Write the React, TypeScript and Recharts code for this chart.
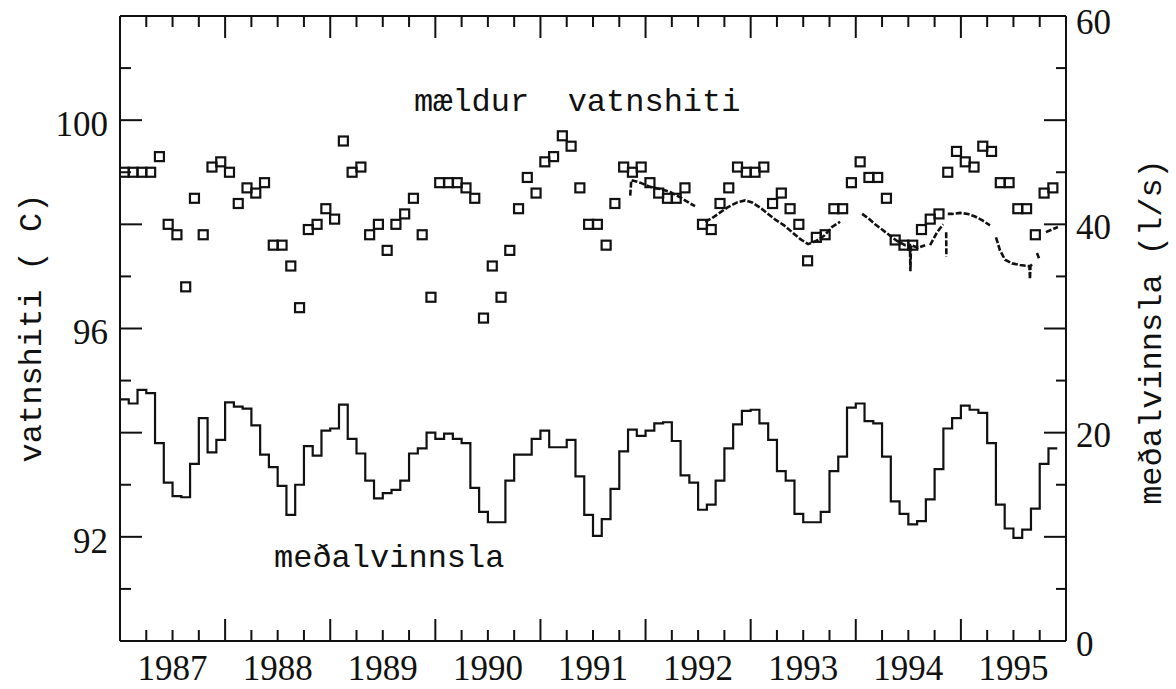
import { ComposedChart, Line, Scatter, XAxis, YAxis } from 'recharts';

// axis labels
const years = [1987, 1988, 1989, 1990, 1991, 1992, 1993, 1994, 1995];
const leftTickLabels = [92, 96, 100];
const rightTickLabels = [0, 20, 40, 60];

// meðalvinnsla (l/s), monthly mean from Jan 1987
const flowMonthly = [
    23.2, 22.8, 24.1, 23.8, 19.0, 15.2, 13.9, 13.8, 17.0, 21.4, 18.1, 19.3,
    22.9, 22.5, 22.3, 20.7, 17.9, 16.7, 14.9, 12.1, 15.0, 18.7, 17.8, 20.2,
    20.4, 22.7, 19.4, 18.0, 15.4, 13.7, 14.2, 14.5, 15.4, 18.0, 18.5, 20.0,
    19.4, 19.9, 19.4, 19.0, 14.7, 12.4, 11.4, 11.4, 15.4, 17.9, 17.9, 19.4,
    20.2, 18.6, 18.6, 19.3, 15.8, 12.1, 10.1, 11.7, 14.6, 18.2, 20.3, 19.7,
    20.2, 20.9, 21.0, 19.2, 15.9, 15.2, 12.6, 13.1, 15.4, 18.5, 20.8, 22.1,
    22.2, 20.9, 19.3, 16.3, 15.4, 12.2, 11.4, 11.4, 12.4, 16.3, 17.7, 22.4,
    22.8, 21.1, 20.9, 17.7, 13.4, 12.2, 11.2, 11.5, 13.6, 16.5, 20.4, 21.4,
    22.6, 22.2, 21.9, 19.0, 13.1, 10.8, 9.9, 10.7, 12.7, 17.0, 18.5,
];

// mældur vatnshiti (C), one measurement per month from Jan 1987
const tempMonthly: (number | null)[] = [
    99.0, 99.0, 99.0, 99.0, 99.3, 98.0, 97.8, 96.8, 98.5, 97.8, 99.1, 99.2,
    99.0, 98.4, 98.7, 98.6, 98.8, 97.6, 97.6, 97.2, 96.4, 97.9, 98.0, 98.3,
    98.1, 99.6, 99.0, 99.1, 97.8, 98.0, 97.5, 98.0, 98.2, 98.5, 97.8, 96.6,
    98.8, 98.8, 98.8, 98.7, 98.5, 96.2, 97.2, 96.6, 97.5, 98.3, 98.9, 98.6,
    99.2, 99.3, 99.7, 99.5, 98.7, 98.0, 98.0, 97.6, 98.4, 99.1, 99.0, 99.1,
    98.8, 98.6, 98.5, 98.5, 98.7, null, 98.0, 97.9, 98.4, 98.7, 99.1, 99.0,
    99.0, 99.1, 98.4, 98.6, 98.3, 98.0, 97.3, 97.75, 97.8, 98.3, 98.3, 98.8,
    99.2, 98.9, 98.9, 98.5, 97.7, 97.6, 97.6, 97.9, 98.1, 98.2, 99.0, 99.4,
    99.2, 99.1, 99.5, 99.4, 98.8, 98.8, 98.3, 98.3, 97.8, 98.6, 98.7,
];

// continuous logger record (null = gap)
const loggerYears = [
    1991.854, 1991.864, 1991.949, 1992.044, 1992.139, 1992.234, 1992.329, 1992.424, 1992.471,
    1992.519, 1992.567, 1992.633, 1992.69, 1992.776, 1992.871, 1992.947, 1993.014, 1993.09,
    1993.166, 1993.242, 1993.318, 1993.394, 1993.47, 1993.546, 1993.622, 1993.698, 1993.774,
    1993.851, 1993.946, 1994.06, 1994.117, 1994.184, 1994.25, 1994.327, 1994.393, 1994.469,
    1994.515, 1994.52, 1994.525, 1994.593, 1994.66, 1994.679, 1994.707, 1994.774, 1994.831,
    1994.845, 1994.86, 1994.862, 1994.866, 1994.875, 1994.916, 1994.992, 1995.068, 1995.135,
    1995.201, 1995.277, 1995.306, 1995.334, 1995.372, 1995.42, 1995.486, 1995.562, 1995.638,
    1995.652, 1995.657, 1995.662, 1995.686, 1995.705, 1995.724, 1995.743, 1995.77, 1995.809,
    1995.866, 1995.923,
];
const loggerTemp: (number | null)[] = [
    98.55, 98.85, 98.8, 98.72, 98.68, 98.62, 98.52, 98.4, 98.35,
    null, 98.05, 98.12, 98.2, 98.32, 98.42, 98.46, 98.42, 98.32,
    98.2, 98.08, 97.98, 97.85, 97.72, 97.62, 97.68, 97.78, 97.95,
    98.05, null, 98.2, 98.12, 98.0, 97.9, 97.78, 97.68, 97.6,
    97.6, 97.1, 97.6, 97.55, 97.6, null, 97.6, 97.85, 98.0,
    null, 97.85, 97.38, null, 98.2, 98.2, 98.22, 98.2, 98.15,
    98.08, 97.98, null, 97.75, 97.5, 97.32, 97.25, 97.22, 97.2,
    97.2, 96.95, 97.2, 97.25, null, 97.45, 97.35, null, 97.85,
    97.9, 97.95,
];

const startYear = 1987;
const endYear = 1996;

const flowData = [
    ...flowMonthly.map((v, k) => ({ t: startYear + k / 12, flow: v })),
    { t: startYear + flowMonthly.length / 12, flow: flowMonthly[flowMonthly.length - 1] },
];
const tempData = tempMonthly
    .map((v, k) => ({ t: startYear + (k + 0.5) / 12, temp: v }))
    .filter((d) => d.temp !== null);
const loggerData = loggerYears.map((t, i) => ({ t, temp: loggerTemp[i] }));

const xTicks = years.flatMap((y) => [y, y + 0.25, y + 0.5, y + 0.75]).filter((v) => v > startYear);
const leftTicks = [91, 92, 93, 94, 95, 96, 97, 98, 99, 100, 101];
const rightTicks = [0, 5, 10, 15, 20, 25, 30, 35, 40, 45, 50, 55, 60];

const serif = '"Liberation Serif", "Times New Roman", serif';
const mono = '"Liberation Mono", "Courier New", monospace';
const ink = '#111';

function BottomTick({ x, y, payload }: any) {
    const v = payload.value;
    const len = Number.isInteger(v) ? 22 : 11;
    const isMid = v % 1 === 0.5;
    return (
        <g>
            <line x1={x} y1={y} x2={x} y2={y - len} stroke={ink} strokeWidth={2} />
            {isMid && (
                <text x={x} y={y + 39} textAnchor="middle" fontFamily={serif} fontSize={35} fill={ink}>
                    {Math.floor(v)}
                </text>
            )}
        </g>
    );
}

function TopTick({ x, y, payload }: any) {
    const len = Number.isInteger(payload.value) ? 22 : 11;
    return <line x1={x} y1={y} x2={x} y2={y + len} stroke={ink} strokeWidth={2} />;
}

function LeftTick({ x, y, payload }: any) {
    const v = payload.value;
    const len = v % 2 === 0 ? 22 : 11;
    return (
        <g>
            <line x1={x} y1={y} x2={x + len} y2={y} stroke={ink} strokeWidth={2} />
            {leftTickLabels.includes(v) && (
                <text x={x - 12} y={y} dy="0.45em" textAnchor="end" fontFamily={serif} fontSize={35} fill={ink}>
                    {v}
                </text>
            )}
        </g>
    );
}

function RightTick({ x, y, payload }: any) {
    const v = payload.value;
    const len = v % 10 === 0 ? 22 : 10;
    const edge = v === 0 || v === 60;
    return (
        <g>
            {!edge && <line x1={x} y1={y} x2={x - len} y2={y} stroke={ink} strokeWidth={2} />}
            {rightTickLabels.includes(v) && (
                <text x={x + 10} y={y} dy={v === 60 ? '0.5em' : '0.42em'} textAnchor="start" fontFamily={serif} fontSize={35} fill={ink}>
                    {v}
                </text>
            )}
        </g>
    );
}

function OpenSquare({ cx, cy }: any) {
    if (cx == null || cy == null) return null;
    return <rect x={cx - 4.5} y={cy - 4.5} width={9} height={9} fill="none" stroke={ink} strokeWidth={2.2} />;
}

const frame = { stroke: ink, strokeWidth: 2 };

export default function App() {
    return (
        <div style={{ position: 'absolute', left: 0, top: 0, width: 1176, height: 689, background: '#fff' }}>
            <ComposedChart width={1176} height={689} margin={{ top: 0, right: 0, bottom: 0, left: 0 }}>
                <XAxis
                    xAxisId="bottom"
                    type="number"
                    dataKey="t"
                    domain={[startYear, endYear]}
                    allowDataOverflow
                    ticks={xTicks}
                    interval={0}
                    tick={(p: any) => <BottomTick {...p} />}
                    tickLine={false}
                    tickSize={0}
                    tickMargin={0}
                    height={48}
                    axisLine={frame}
                />
                <XAxis
                    xAxisId="top"
                    orientation="top"
                    type="number"
                    dataKey="t"
                    domain={[startYear, endYear]}
                    allowDataOverflow
                    ticks={xTicks}
                    interval={0}
                    tick={(p: any) => <TopTick {...p} />}
                    tickLine={false}
                    tickSize={0}
                    tickMargin={0}
                    height={16}
                    axisLine={frame}
                />
                <YAxis
                    yAxisId="left"
                    orientation="left"
                    type="number"
                    domain={[90, 102]}
                    allowDataOverflow
                    ticks={leftTicks}
                    interval={0}
                    tick={(p: any) => <LeftTick {...p} />}
                    tickLine={false}
                    tickSize={0}
                    tickMargin={0}
                    width={120}
                    axisLine={frame}
                />
                <YAxis
                    yAxisId="right"
                    orientation="right"
                    type="number"
                    domain={[0, 60]}
                    allowDataOverflow
                    ticks={rightTicks}
                    interval={0}
                    tick={(p: any) => <RightTick {...p} />}
                    tickLine={false}
                    tickSize={0}
                    tickMargin={0}
                    width={110}
                    axisLine={frame}
                />
                <Line
                    xAxisId="top"
                    yAxisId="right"
                    data={flowData}
                    dataKey="flow"
                    type="stepAfter"
                    stroke={ink}
                    strokeWidth={2.2}
                    dot={false}
                    isAnimationActive={false}
                />
                <Line
                    xAxisId="bottom"
                    yAxisId="left"
                    data={loggerData}
                    dataKey="temp"
                    type="linear"
                    stroke={ink}
                    strokeWidth={2.6}
                    strokeDasharray="6 2"
                    connectNulls={false}
                    dot={false}
                    isAnimationActive={false}
                />
                <Scatter
                    xAxisId="bottom"
                    yAxisId="left"
                    data={tempData}
                    dataKey="temp"
                    shape={(p: any) => <OpenSquare {...p} />}
                    isAnimationActive={false}
                />
            </ComposedChart>
            <svg
                width={1176}
                height={689}
                style={{ position: 'absolute', left: 0, top: 0, pointerEvents: 'none' }}
            >
                <text x={414} y={111} fontFamily={mono} fontSize={32} fill={ink} style={{ whiteSpace: 'pre' }}>
                    {'mældur  vatnshiti'}
                </text>
                <text x={274} y={567} fontFamily={mono} fontSize={32} fill={ink}>
                    meðalvinnsla
                </text>
                <text
                    x={41}
                    y={328}
                    transform="rotate(-90 41 328)"
                    textAnchor="middle"
                    fontFamily={mono}
                    fontSize={32}
                    fill={ink}
                    style={{ whiteSpace: 'pre' }}
                >
                    {'vatnshiti ( C)'}
                </text>
                <text
                    x={1161}
                    y={332}
                    transform="rotate(-90 1161 332)"
                    textAnchor="middle"
                    fontFamily={mono}
                    fontSize={32}
                    fill={ink}
                >
                    meðalvinnsla (l/s)
                </text>
            </svg>
        </div>
    );
}
